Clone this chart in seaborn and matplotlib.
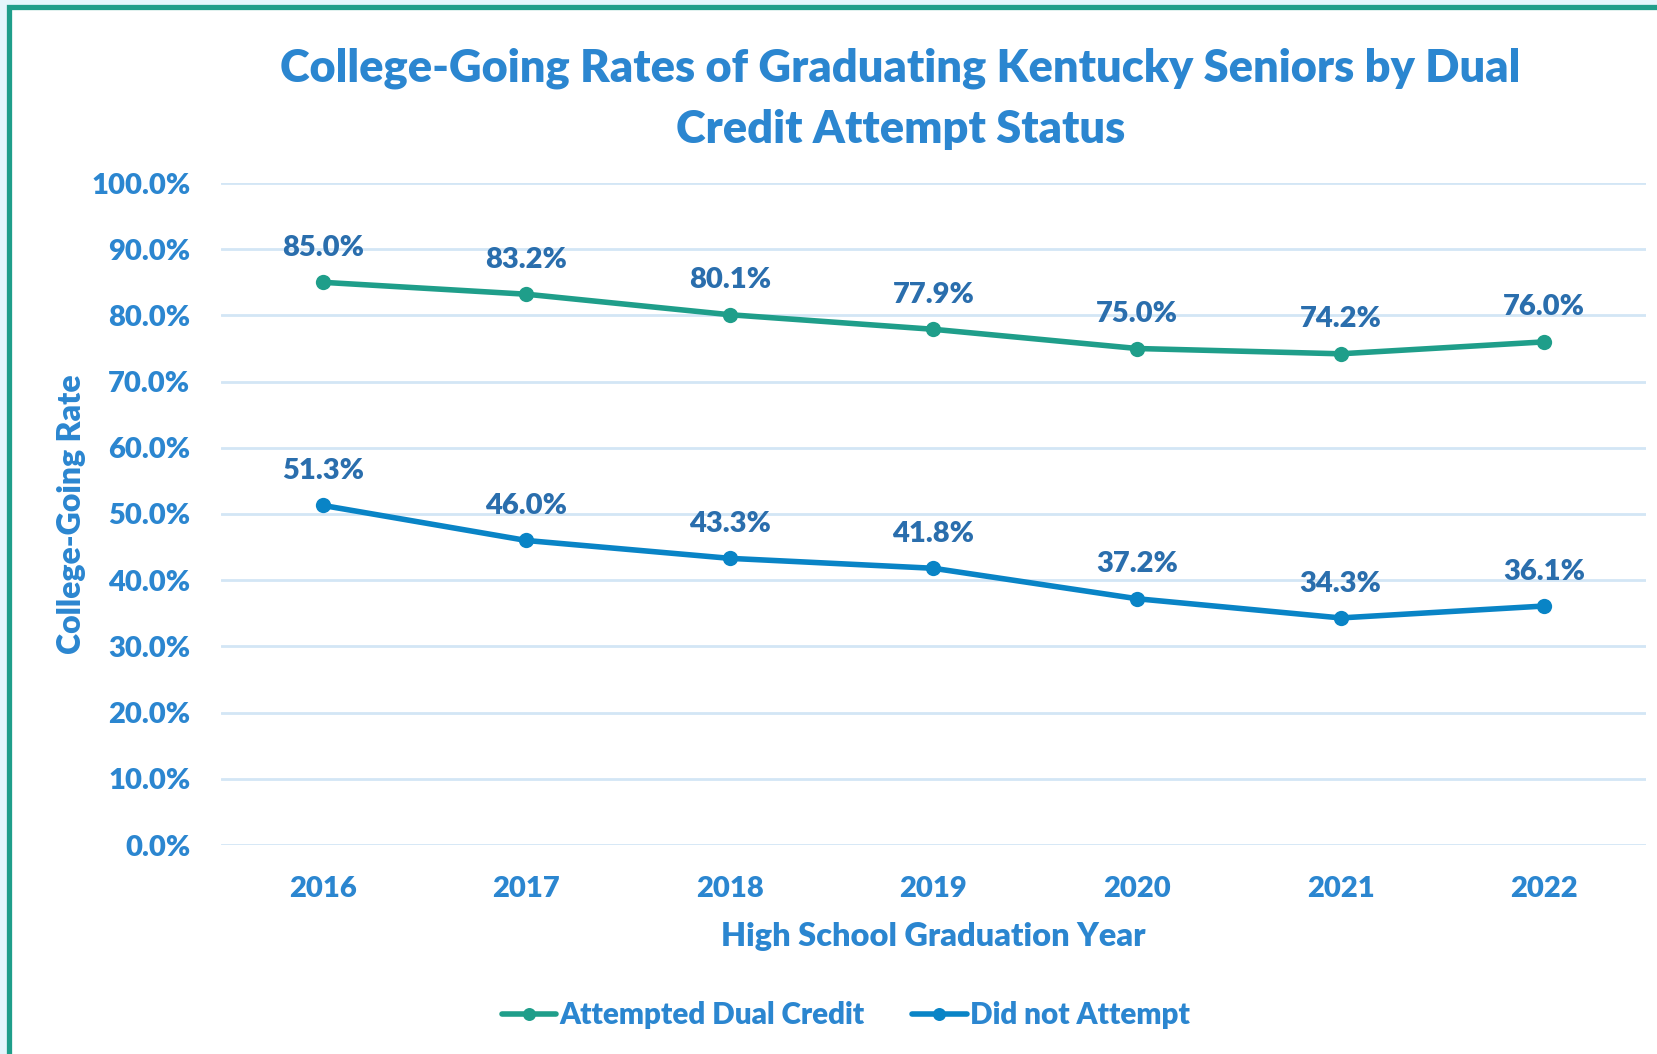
import matplotlib
matplotlib.use("Agg")
import matplotlib.pyplot as plt
import matplotlib.patches as patches
import seaborn as sns
import pandas as pd

years = ["2016", "2017", "2018", "2019", "2020", "2021", "2022"]
attempted = [85.0, 83.2, 80.1, 77.9, 75.0, 74.2, 76.0]
not_attempted = [51.3, 46.0, 43.3, 41.8, 37.2, 34.3, 36.1]
series_names = ["Attempted Dual Credit", "Did not Attempt"]
y_ticks = [0, 10, 20, 30, 40, 50, 60, 70, 80, 90, 100]

text_blue = "#2b86d0"
label_blue = "#2a6ead"
colors = {"Attempted Dual Credit": "#1f9e8a", "Did not Attempt": "#0984c6"}
W = "heavy"

df = pd.DataFrame({
    "year": years * 2,
    "rate": attempted + not_attempted,
    "series": [series_names[0]] * len(years) + [series_names[1]] * len(years),
})

sns.set_style("white")
plt.rcParams["font.family"] = ["Lato", "DejaVu Sans"]
plt.rcParams["font.weight"] = W

fig = plt.figure(figsize=(16.58, 10.54), dpi=100, facecolor="#e4f6fc")
# white card with teal border, running off the right and bottom edges
frame = patches.Rectangle((9.5 / 1658, -0.1), 1.2, 1.1 - 6.5 / 1054,
                          transform=fig.transFigure, facecolor="white",
                          edgecolor="#1f9e8a", linewidth=3.8, zorder=-5)
fig.patches.append(frame)

ax = fig.add_axes([221 / 1658, 1 - 845 / 1054, (1646 - 221) / 1658, (845 - 183) / 1054])
ax.set_facecolor("none")
ax.set_zorder(2)

sns.lineplot(data=df, x="year", y="rate", hue="series", palette=colors,
             marker="o", markersize=11, linewidth=4, markeredgewidth=0,
             ax=ax, legend=True, sort=False)

for vals in (attempted, not_attempted):
    for i, v in enumerate(vals):
        ax.text(i, v + 5.2, f"{v:.1f}%", ha="center", va="center",
                fontsize=21, fontweight=W, color=label_blue)

ax.set_ylim(0, 100)
ax.set_xlim(-0.5, len(years) - 0.5)
ax.set_yticks(y_ticks)
ax.set_yticklabels([f"{t:.1f}%" for t in y_ticks])
ax.yaxis.grid(True, color="#d3e6f5", linewidth=2)
ax.xaxis.grid(False)
ax.set_axisbelow(True)
for s in ax.spines.values():
    s.set_visible(False)
ax.tick_params(axis="both", length=0, labelsize=21, labelcolor=text_blue)
ax.tick_params(axis="y", pad=22)
ax.tick_params(axis="x", pad=22)
for lab in ax.get_xticklabels() + ax.get_yticklabels():
    lab.set_fontweight(W)

ax.set_xlabel("High School Graduation Year", fontsize=23.4, fontweight=W,
              color=text_blue, labelpad=15)
ax.set_ylabel("College-Going Rate", fontsize=23, fontweight=W,
              color=text_blue, labelpad=4)

fig.text(0.543, 1 - 68 / 1054, "College-Going Rates of Graduating Kentucky Seniors by Dual",
         ha="center", va="center", fontsize=32.5, fontweight=W, color=text_blue)
fig.text(0.543, 1 - 129 / 1054, "Credit Attempt Status",
         ha="center", va="center", fontsize=32.5, fontweight=W, color=text_blue)

leg = ax.legend(loc="center", bbox_to_anchor=(0.510, 1 - 1015 / 1054),
                bbox_transform=fig.transFigure, ncol=2, frameon=False,
                handlelength=1.85, handletextpad=0.1, columnspacing=1.6,
                markerscale=0.85, prop={"size": 21.3, "weight": W})
for t in leg.get_texts():
    t.set_color(text_blue)

fig.savefig("out.png", dpi=100, facecolor=fig.get_facecolor())
